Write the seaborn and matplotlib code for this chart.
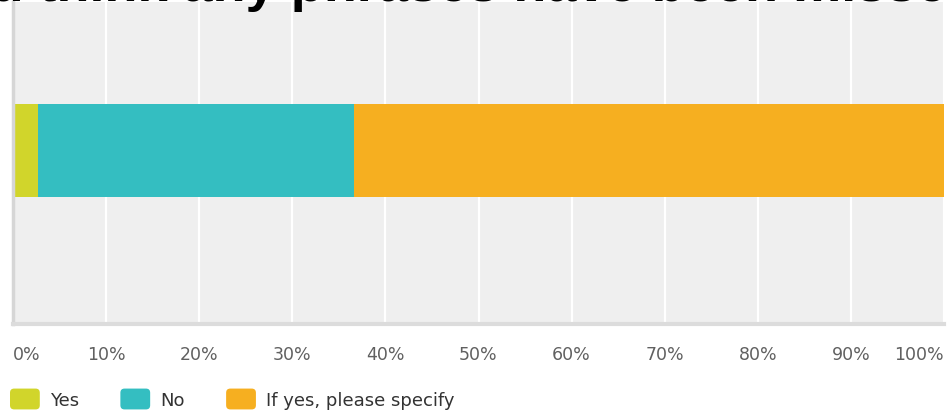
import numpy as np
import matplotlib
matplotlib.use("Agg")
import matplotlib.pyplot as plt
from matplotlib.patches import Patch, FancyBboxPatch
from matplotlib.legend_handler import HandlerPatch
import seaborn as sns

# ---- data ----
title_text = "Do you think any phrases have been missed?"
question = ["Q"]
categories = ["Yes", "No", "If yes, please specify"]
values = [2.7, 33.9, 63.4]
colors = ["#d1d52b", "#34bec1", "#f6af20"]
tick_values = list(range(0, 101, 10))
tick_labels = [f"{v}%" for v in tick_values]

W, H = 951, 414
fig = plt.figure(figsize=(W / 100, H / 100), dpi=100)
fig.patch.set_facecolor("white")

ax = fig.add_axes([13 / W, 1 - 325 / H, (944 - 13) / W, (325 - 3) / H])
ax.set_facecolor("#efefef")

cum = np.cumsum(values)
for i in reversed(range(len(values))):
    sns.barplot(x=[cum[i]], y=question, color=colors[i], orient="h",
                width=0.6, saturation=1, ax=ax, linewidth=0)

ax.set_xlim(0, 100)
ax.set_ylim(1.119, -0.957)
ax.set_xticks(tick_values)
ax.set_xticklabels(tick_labels)
ax.set_yticks([])
ax.set_xlabel("")
ax.set_ylabel("")
ax.grid(axis="x", color="white", linewidth=1.6)
ax.grid(axis="y", visible=False)
ax.set_axisbelow(True)

for s in ["top", "right"]:
    ax.spines[s].set_visible(False)
ax.spines["left"].set_color("#d6d6d6")
ax.spines["left"].set_linewidth(2.5)
ax.spines["bottom"].set_color("#dcdcdc")
ax.spines["bottom"].set_linewidth(3)

ax.tick_params(axis="x", length=0, pad=15, labelsize=12.5, labelcolor="#606060")
for lab in ax.get_xticklabels():
    lab.set_fontfamily("DejaVu Sans")
labs = ax.get_xticklabels()
labs[0].set_ha("left")
labs[-1].set_ha("right")

fig.text(-160 / W, 1 - 1.5 / H, title_text, fontsize=39, fontweight="bold",
         family="Liberation Sans", color="black", ha="left", va="baseline")


def rounded_patch(legend, orig_handle, xdescent, ydescent, width, height, fontsize):
    return FancyBboxPatch((-xdescent, -ydescent), width, height,
                          boxstyle="round,pad=0,rounding_size=3")


handles = [Patch(facecolor=c, edgecolor="none", label=l) for c, l in zip(colors, categories)]
leg = fig.legend(handles=handles, loc="center left", bbox_to_anchor=(10 / W, 14 / H),
                 ncol=3, frameon=False, fontsize=13, handlelength=1.65,
                 handleheight=1.4, handletextpad=0.55, columnspacing=2.3,
                 borderaxespad=0, borderpad=0,
                 handler_map={Patch: HandlerPatch(patch_func=rounded_patch)})
for t in leg.get_texts():
    t.set_color("#333333")

fig.savefig("out.png", dpi=100)
